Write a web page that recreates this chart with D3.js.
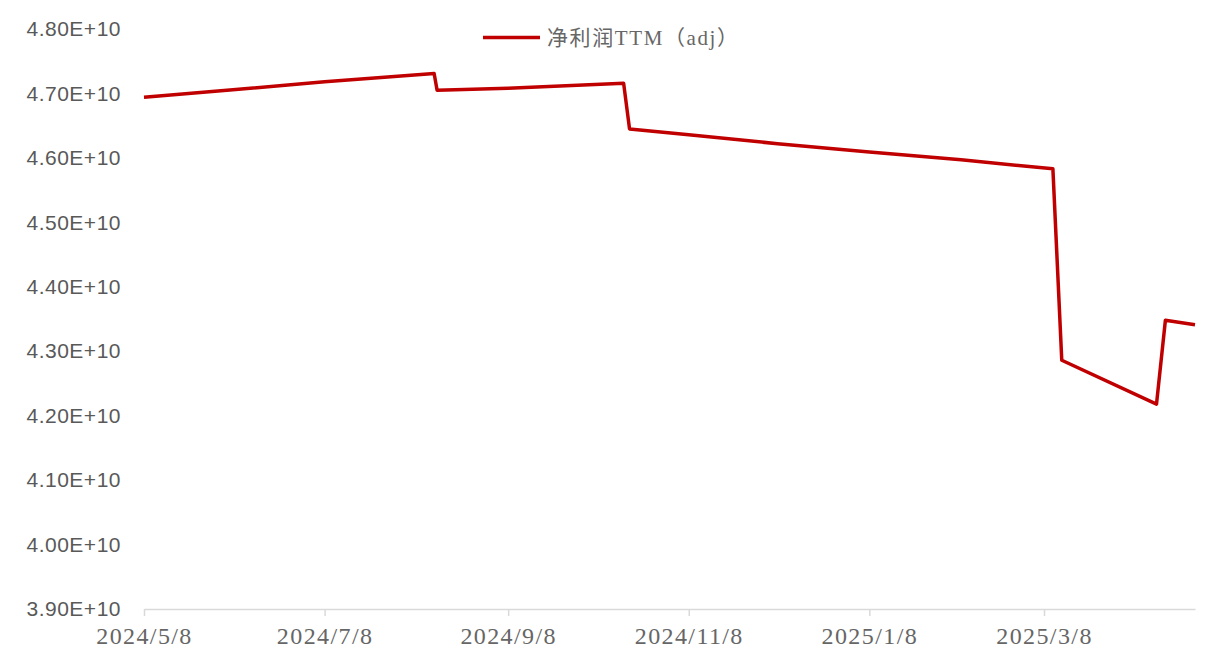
<!DOCTYPE html>
<html>
<head>
<meta charset="utf-8">
<script src="https://cdn.jsdelivr.net/npm/d3@7/dist/d3.min.js"></script>
<style>
  html, body { margin: 0; padding: 0; background: #ffffff; }
  svg { display: block; }
</style>
</head>
<body>
<svg id="chart" width="1218" height="672"></svg>
<script>
// ---- data (values in units of 1E10) ----
const seriesName = "净利润TTM（adj）";
const dates = [
  "2024-05-08", "2024-06-08", "2024-07-08", "2024-08-14", "2024-08-15",
  "2024-09-08", "2024-10-17", "2024-10-19", "2024-11-08", "2024-12-08",
  "2025-01-08", "2025-02-08", "2025-03-11", "2025-03-14", "2025-04-15",
  "2025-04-18", "2025-04-28"
];
const values = [
  4.694, 4.706, 4.718, 4.731, 4.705,
  4.708, 4.716, 4.645, 4.636, 4.622,
  4.609, 4.597, 4.583, 4.286, 4.218,
  4.348, 4.341
];
const yTicks = [3.9, 4.0, 4.1, 4.2, 4.3, 4.4, 4.5, 4.6, 4.7, 4.8];
const xTickDates = ["2024-05-08", "2024-07-08", "2024-09-08", "2024-11-08", "2025-01-08", "2025-03-08"];
const xDomain = ["2024-05-08", "2025-04-28"];

// ---- layout ----
const svg = d3.select("#chart");
const mLeft = 144, mRight = 1195, mTop = 29, mBottom = 609;
const parse = d3.timeParse("%Y-%m-%d");
const data = dates.map((d, i) => ({ date: parse(d), value: values[i] }));

const x = d3.scaleTime().domain(xDomain.map(parse)).range([mLeft, mRight]);
const y = d3.scaleLinear().domain([3.9, 4.8]).range([mBottom, mTop]);

// y labels (no axis line)
const yAxis = d3.axisLeft(y).tickValues(yTicks).tickSize(0).tickPadding(0)
  .tickFormat(d => d.toFixed(2) + "E+10");
const gy = svg.append("g").attr("transform", `translate(${121},0)`).call(yAxis);
gy.select(".domain").remove();
gy.selectAll("text")
  .attr("font-family", "'Liberation Sans', Arial, sans-serif")
  .attr("font-size", 21)
  .attr("letter-spacing", "0.5px")
  .attr("fill", "#595959");

// x axis
const fmt = d3.timeFormat("%Y/%-m/%-d");
const xAxis = d3.axisBottom(x).tickValues(xTickDates.map(parse)).tickSize(7).tickSizeOuter(0)
  .tickPadding(11).tickFormat(fmt);
const gx = svg.append("g").attr("transform", `translate(0,${mBottom})`).call(xAxis);
gx.select(".domain").attr("stroke", "#d9d9d9").attr("stroke-width", 1.5);
gx.selectAll(".tick line").attr("stroke", "#d9d9d9").attr("stroke-width", 1.5);
gx.selectAll("text")
  .attr("font-family", "'Liberation Serif', 'Times New Roman', serif")
  .attr("font-size", 24)
  .attr("letter-spacing", "1.4px")
  .attr("fill", "#666666");

// line
const line = d3.line().x(d => x(d.date)).y(d => y(d.value));
svg.append("path")
  .datum(data)
  .attr("fill", "none")
  .attr("stroke", "#c00000")
  .attr("stroke-width", 3.5)
  .attr("stroke-linejoin", "round")
  .attr("d", line);

// legend
const lg = svg.append("g");
lg.append("line").attr("x1", 483).attr("x2", 540).attr("y1", 37.5).attr("y2", 37.5)
  .attr("stroke", "#c00000").attr("stroke-width", 3.5);
lg.append("text").attr("x", 547).attr("y", 45)
  .attr("font-family", "'Liberation Serif', 'Noto Sans CJK SC', serif")
  .attr("font-size", 21).attr("letter-spacing", "1.6px").attr("fill", "#666666")
  .text(seriesName);
</script>
</body>
</html>
